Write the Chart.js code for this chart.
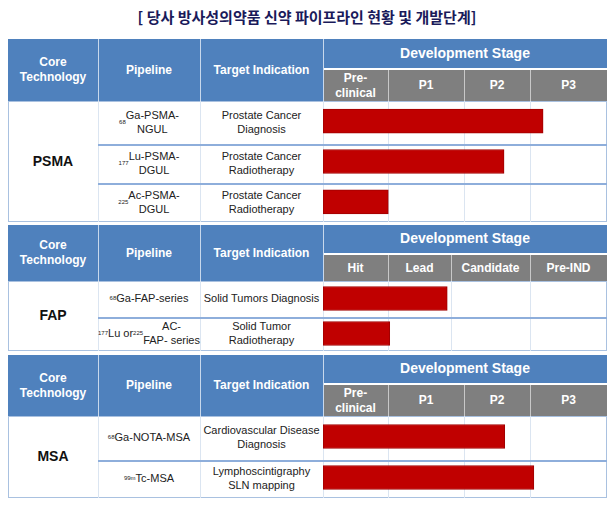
<!DOCTYPE html>
<html><head><meta charset="utf-8">
<script src="https://cdn.jsdelivr.net/npm/chart.js@4/dist/chart.umd.min.js"></script>
<style>
body{margin:0;background:#fff;font-family:"Liberation Sans",Arial,sans-serif;}
#wrap{position:relative;width:614px;height:507px;overflow:hidden;}
.c{position:absolute;display:flex;align-items:center;justify-content:center;text-align:center;box-sizing:border-box;line-height:1.25;}
.h{background:#4f81bd;color:#fff;font-weight:bold;font-size:12px;}
.g{background:#7f7f7f;color:#fff;font-weight:bold;font-size:12px;}
.b{color:#222;font-size:11px;}
sup{font-size:6px;vertical-align:5px;}
.ln{position:absolute;}
canvas{position:absolute;}
#title{position:absolute;left:0;top:6px;width:614px;text-align:center;font-family:"Noto Sans CJK KR";font-weight:bold;font-size:15px;color:#1a1a5a;}
</style></head><body>
<div id="wrap"><div id="title">[ 당사 방사성의약품 신약 파이프라인 현황 및 개발단계]</div></div>
<script>
const coreTech=["PSMA","FAP","MSA"];
const stageLabels=[["Pre-<br>clinical","P1","P2","P3"],["Hit","Lead","Candidate","Pre-IND"],["Pre-<br>clinical","P1","P2","P3"]];
const pipelines=[["<sup>68</sup>Ga-PSMA-<br>NGUL","<sup>177</sup>Lu-PSMA-<br>DGUL","<sup>225</sup>Ac-PSMA-<br>DGUL"],
 ["<sup>68</sup>Ga-FAP-series","<sup>177</sup>Lu or <sup>225</sup>AC-<br>FAP- series"],
 ["<sup>68</sup>Ga-NOTA-MSA","<sup>99m</sup>Tc-MSA"]];
const indications=[["Prostate Cancer<br>Diagnosis","Prostate Cancer<br>Radiotherapy","Prostate Cancer<br>Radiotherapy"],
 ["Solid Tumors Diagnosis","Solid Tumor<br>Radiotherapy"],
 ["Cardiovascular Disease<br>Diagnosis","Lymphoscintigraphy<br>SLN mapping"]];
const progress=[[3.10,2.55,0.92],[1.75,0.94],[2.56,2.97]];

const X=[8,98,200,323,607];
const stageX=[[323,388,464,530,607],[323,388,451,530,607],[323,388,464,530,607]];
const geo=[{top:39,split:68,hb:101,rows:[101,144,183,222]},{top:225,split:253,hb:281,rows:[281,317,351]},{top:355,split:383,hb:416,rows:[416,460,498]}];
const W=document.getElementById('wrap');
function box(cls,x,y,w,h,html,st){const d=document.createElement('div');d.className=cls;Object.assign(d.style,{left:x+'px',top:y+'px',width:w+'px',height:h+'px'},st||{});if(html!=null)d.innerHTML=html;W.appendChild(d);return d;}
const LB='#a9c1e0';
geo.forEach((g,s)=>{
  const end=g.rows[g.rows.length-1];
  box('c h',X[0],g.top,X[1]-X[0],g.hb-g.top,'Core<br>Technology');
  box('c h',X[1],g.top,X[2]-X[1],g.hb-g.top,'Pipeline');
  box('c h',X[2],g.top,X[3]-X[2],g.hb-g.top,'Target Indication');
  box('c h',X[3],g.top,X[4]-X[3],g.split-g.top,'Development Stage',{fontSize:'14px'});
  const sx=stageX[s];
  for(let i=0;i<4;i++)box('c g',sx[i],g.split+2,sx[i+1]-sx[i],g.hb-g.split-2,stageLabels[s][i]);
  [X[1],X[2],X[3]].forEach(x=>box('ln',x,g.top,1,g.hb-g.top,null,{background:'#c8d8ec'}));
  for(let i=1;i<4;i++)box('ln',sx[i],g.split+2,1,g.hb-g.split-2,null,{background:'#c8c8c8'});
  box('ln',X[0],g.hb,X[4]-X[0],end-g.hb,null,{border:'1px solid '+LB,boxSizing:'border-box'});
  box('c b',X[0],g.hb,X[1]-X[0],end-g.hb,coreTech[s],{fontWeight:'bold',fontSize:'14px',color:'#111'});
  [X[1],X[2],X[3]].forEach(x=>box('ln',x,g.hb,1,end-g.hb,null,{background:'#dbe5f1'}));
  for(let i=1;i<4;i++)box('ln',sx[i],g.hb,1,end-g.hb,null,{background:'#dbe5f1'});
  for(let r=0;r<g.rows.length-1;r++){
    const y0=g.rows[r],y1=g.rows[r+1];
    if(r>0)box('ln',X[1],y0,X[4]-X[1],2,null,{background:'#8eaedb'});
    box('c b',X[1],y0,X[2]-X[1],y1-y0,pipelines[s][r]);
    box('c b',X[2],y0,X[3]-X[2],y1-y0,indications[s][r]);
  }
  const cv=document.createElement('canvas');
  cv.width=X[4]-X[3];cv.height=end-g.hb;
  Object.assign(cv.style,{left:X[3]+'px',top:g.hb+'px',width:(X[4]-X[3])+'px',height:(end-g.hb)+'px'});
  W.appendChild(cv);
  new Chart(cv,{type:'bar',data:{labels:pipelines[s].map((_,i)=>'r'+i),datasets:[{data:progress[s],backgroundColor:'#c00000',borderColor:'#a00000',borderWidth:1,barThickness:24,borderSkipped:false}]},
    options:{indexAxis:'y',responsive:false,animation:false,layout:{padding:0},
      plugins:{legend:{display:false},tooltip:{enabled:false}},
      scales:{x:{min:0,max:4,display:false},y:{display:false}}}});
});
</script>
</body></html>
